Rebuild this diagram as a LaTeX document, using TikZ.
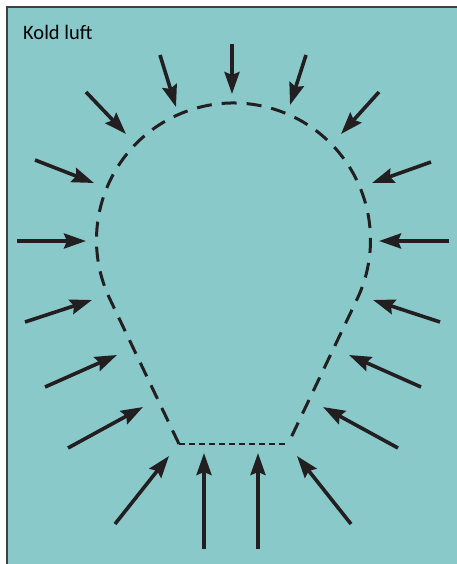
\documentclass[tikz,border=0pt]{standalone}
\usepackage{fontspec}
\setmainfont{Carlito}
\usetikzlibrary{arrows.meta}
\definecolor{luft}{RGB}{138,201,202}
\definecolor{blk}{RGB}{35,31,32}

\begin{document}
\begin{tikzpicture}[x=1pt,y=-1pt,
  pil/.style={blk,line width=3.6pt,-{Stealth[length=22pt,width=15pt,inset=3pt]}}]

\useasboundingbox (0,0) rectangle (456,564);

% frame
\draw[line width=2pt,draw=black!75,fill=luft] (6.5,7.5) rectangle (480,590);
\node[anchor=base west,inner sep=0pt,font=\fontsize{20.5}{24}\selectfont] (title) at (23,40) {Kold luft};

% bulb outline
\coordinate (C) at (233.5,240);
\coordinate (BL) at (179,444);
\coordinate (BR) at (288,444);
\coordinate (TL) at ([shift={(C)}]154.52:137);

\draw[blk,line width=3pt,dash pattern=on 15pt off 10pt]
  (BL) -- (TL) arc[start angle=154.52,end angle=385.48,radius=137] -- (BR);
\draw[blk,line width=1.5pt,dash pattern=on 6pt off 4pt] (BL) -- (BR);

% arrows
\foreach \n/\ax/\ay/\bx/\by in {
  1/232/44/232/94, 2/160/55/176/107, 3/306/55/290/105,
  4/86/92/126/134, 5/379/92/341/134,
  6/35/160/94/183, 7/431/162/372/183,
  8/17/241/86/241, 9/449/241/379/241,
  10/25/322/92/300, 11/440/322/373/300,
  12/45/387/117/355, 13/421/387/349/355,
  14/68/448/143/407, 15/398/448/323/407,
  16/115/524/169/456, 17/351/524/297/456,
  18/204/549/204/453, 19/258/549/258/453}
{
  \coordinate (a\n) at (\ax,\ay);
  \coordinate (b\n) at (\bx,\by);
  \draw[pil] (a\n) -- (b\n);
}

\end{tikzpicture}
\end{document}
